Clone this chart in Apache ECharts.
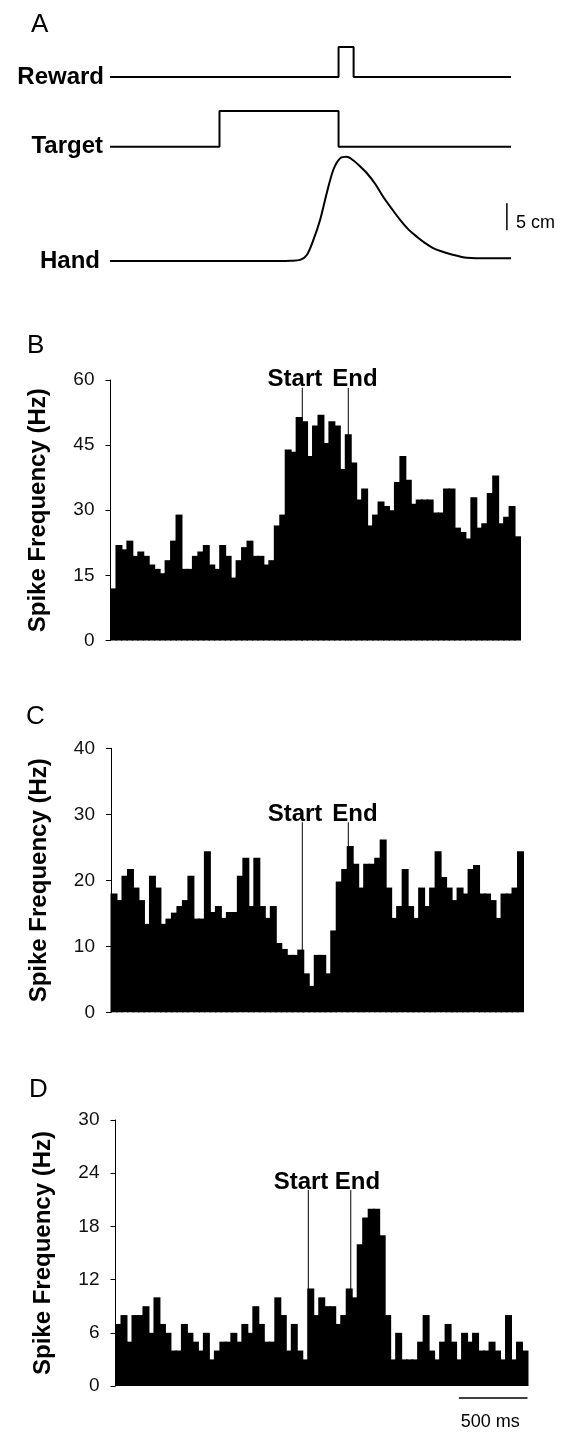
<!DOCTYPE html>
<html>
<head>
<meta charset="utf-8">
<script src="https://cdn.jsdelivr.net/npm/echarts@6/dist/echarts.min.js"></script>
<style>
  html, body { margin: 0; padding: 0; background: #fff; }
  #chart { width: 564px; height: 1434px; }
</style>
</head>
<body>
<div id="chart"></div>
<script>
// ---- data ----
// panel A: task events (ms) and hand trace
var traceEndMs = 2930;
var targetOnMs = 800;
var targetOffMs = 1670;
var rewardOnMs = 1670;
var rewardOffMs = 1780;
var handTimeMs = [0, 1240, 1320, 1389, 1438, 1486, 1535, 1584, 1632, 1681, 1730, 1779,
  1828, 1876, 1937, 1996, 2058, 2120, 2178, 2242, 2303, 2361, 2420, 2485, 2608, 2778, 2930];
var handPosCm = [0, 0, 0.05, 0.2, 1.1, 3.9, 7.6, 12.6, 16.9, 19.0, 19.3, 18.6,
  17.5, 16.3, 14.3, 11.9, 9.7, 7.6, 5.9, 4.5, 3.3, 2.4, 1.8, 1.3, 0.6, 0.5, 0.5];

// panels B-D: 40 ms bins, spike frequency (Hz)
var BIN_MS = 40;
var spikeB = [12, 22, 21, 23, 19.5, 20.5, 19.5, 17.5, 16.5, 15.5, 18.5, 23, 29, 16.5, 16.5,
  19.5, 20.5, 22, 17.5, 16.5, 22, 19.5, 14.5, 18.5, 21.5, 23, 19.5, 19.5, 17.5, 18.5,
  26.5, 29, 44, 43.5, 51.5, 50.5, 42.5, 49.5, 52, 45.5, 50.5, 49.5, 39.5, 47.5, 41,
  32.5, 35, 26.5, 29, 32, 31, 30, 36.5, 42.5, 37, 31.5, 32.5, 32.5, 32.5, 29.5,
  29.5, 35, 35, 26, 25, 23.5, 33, 26, 27, 34, 38, 27, 28.5, 31, 24];
var spikeC = [18, 17, 20.7, 21.7, 18.9, 17, 13.4, 20.7, 18.9, 13.4, 14.2, 15.1, 16.1, 17, 20.7,
  14.2, 14.2, 24.4, 15.2, 16.1, 14.3, 15.2, 15.2, 20.7, 23.4, 16.1, 23.4, 16.1, 14.3, 16.1,
  10.5, 9.6, 8.7, 8.7, 9.5, 5.9, 4.0, 8.7, 8.7, 5.9, 12.4, 19.8, 21.7, 25.2, 22.5,
  18.9, 22.5, 22.5, 23.4, 26.2, 18.9, 14.3, 16.1, 21.7, 16.1, 14.3, 18.9, 16.1, 18.9, 24.4,
  20.5, 18.9, 17, 18.9, 18, 21.7, 22.3, 18, 18, 17, 14.3, 18, 18, 18.9, 24.4];
var spikeD = [7, 8, 5, 8, 8, 9, 6, 10, 7, 6, 4, 4, 7, 6, 5, 4, 6, 3, 4, 5, 5, 6, 5, 7, 6,
  9, 7, 5, 5, 10, 8, 4, 7, 4, 3, 11, 8, 10, 9, 9, 7, 8, 11, 10, 16, 19, 20, 20, 17, 8,
  3, 6, 3, 3, 3, 5, 8, 4, 3, 5, 7, 5, 3, 6, 5, 6, 4, 4, 5, 4, 3, 8, 3, 5, 4];

// movement start / end markers for B, C, D (ms) and how high the tick reaches (Hz)
var startMs = [1405, 1393, 1404];
var endMs = [1742, 1728, 1713];
var markTop = [58.2, 28.8, 22.1];
var yMax = [60, 40, 30];
var yStep = [15, 10, 6];

var FONT = '"Liberation Sans", Arial, Helvetica, sans-serif';

// ---- chart ----
var chart = echarts.init(document.getElementById('chart'), null, {renderer: 'canvas'});

function histItem(params, api) {
  var t = api.value(0);
  var p0 = api.coord([t, api.value(1)]);
  var p1 = api.coord([t + BIN_MS, 0]);
  // a little overlap so neighbouring bins don't leave hairline seams
  return {
    type: 'rect',
    shape: {x: p0[0] - 0.5, y: p0[1], width: p1[0] - p0[0] + 1.5, height: p1[1] - p0[1]},
    style: {fill: '#000', stroke: null}
  };
}

function bins(vals) {
  return vals.map(function (v, i) { return [i * BIN_MS, v]; });
}

function traceAxis(label, max, margin) {
  return {
    type: 'value', min: 0, max: max, interval: max,
    axisLine: {show: false}, axisTick: {show: false}, splitLine: {show: false},
    axisLabel: {
      margin: margin, color: '#000', fontFamily: FONT, fontWeight: 'bold', fontSize: 24,
      formatter: function (v) { return v === 0 ? label : ''; }
    }
  };
}

function spikeAxis(k) {
  return {
    type: 'value', min: 0, max: yMax[k], interval: yStep[k],
    name: 'Spike Frequency (Hz)', nameLocation: 'middle', nameGap: 60, nameRotate: 90,
    nameTextStyle: {color: '#000', fontFamily: FONT, fontWeight: 'bold', fontSize: 24},
    axisLine: {show: true, lineStyle: {color: '#000', width: 1}},
    axisTick: {show: true, length: 5, lineStyle: {color: '#000'}},
    splitLine: {show: false},
    axisLabel: {margin: 16, color: '#111', fontFamily: FONT, fontSize: 19}
  };
}

var grids = [
  {left: 110, top: 47, width: 401, height: 30},      // reward
  {left: 110, top: 111, width: 401, height: 35.7},   // target
  {left: 110, top: 153, width: 401, height: 108},    // hand
  {left: 110.5, top: 380, width: 409.5, height: 260.5}, // B
  {left: 111, top: 748.3, width: 412, height: 264},  // C
  {left: 115.5, top: 1120, width: 412, height: 266}  // D
];

var xAxes = grids.map(function (g, i) {
  return {type: 'value', gridIndex: i, min: 0, max: i < 3 ? traceEndMs : 3000, show: false};
});

var yAxes = [traceAxis('Reward', 1, 6), traceAxis('Target', 1, 7), traceAxis('Hand', 20, 10),
  spikeAxis(0), spikeAxis(1), spikeAxis(2)];
yAxes.forEach(function (a, i) { a.gridIndex = i; });

var traceLine = {color: '#000', width: 2};
var series = [
  {type: 'line', xAxisIndex: 0, yAxisIndex: 0, step: 'end', symbol: 'none', clip: false,
    lineStyle: traceLine,
    data: [[0, 0], [rewardOnMs, 1], [rewardOffMs, 0], [traceEndMs, 0]]},
  {type: 'line', xAxisIndex: 1, yAxisIndex: 1, step: 'end', symbol: 'none', clip: false,
    lineStyle: traceLine,
    data: [[0, 0], [targetOnMs, 1], [targetOffMs, 0], [traceEndMs, 0]]},
  {type: 'line', xAxisIndex: 2, yAxisIndex: 2, symbol: 'none', smooth: 0.3, clip: false,
    lineStyle: traceLine,
    data: handTimeMs.map(function (t, i) { return [t, handPosCm[i]]; })}
];

[spikeB, spikeC, spikeD].forEach(function (vals, k) {
  series.push({
    type: 'custom', xAxisIndex: 3 + k, yAxisIndex: 3 + k,
    renderItem: histItem, encode: {x: 0, y: 1}, data: bins(vals), silent: true
  });
  [startMs[k], endMs[k]].forEach(function (t) {
    series.push({
      type: 'line', xAxisIndex: 3 + k, yAxisIndex: 3 + k, symbol: 'none', z: 3,
      lineStyle: {color: '#000', width: 1},
      data: [[t, markTop[k]], [t, 0]]
    });
  });
});

chart.setOption({
  animation: false,
  backgroundColor: '#fff',
  grid: grids,
  xAxis: xAxes,
  yAxis: yAxes,
  series: series
});

// ---- annotations placed through the axes ----
function txt(s, x, y, size, weight, align, valign) {
  return {
    type: 'text', x: x, y: y, silent: true,
    style: {text: s, fill: '#000', font: (weight || 'normal') + ' ' + size + 'px ' + FONT,
      align: align || 'left', textAlign: align || 'left',
      verticalAlign: valign || 'middle', textVerticalAlign: valign || 'middle'}
  };
}
function seg(p, q, w) {
  return {type: 'line', silent: true, shape: {x1: p[0], y1: p[1], x2: q[0], y2: q[1]},
    style: {stroke: '#000', lineWidth: w}};
}

var g = [];
g.push(txt('A', 31, 25, 26));
g.push(txt('B', 27, 346, 26));
g.push(txt('C', 26, 717, 26));
g.push(txt('D', 29, 1090, 26));

// 5 cm scale bar on the hand trace
var sb0 = chart.convertToPixel({xAxisIndex: 2, yAxisIndex: 2}, [2900, 5.7]);
var sb1 = chart.convertToPixel({xAxisIndex: 2, yAxisIndex: 2}, [2900, 10.7]);
g.push(seg(sb0, sb1, 1.5));
g.push(txt('5 cm', sb0[0] + 9, (sb0[1] + sb1[1]) / 2 + 6, 18));

// Start / End labels
for (var k = 0; k < 3; k++) {
  var ps = chart.convertToPixel({xAxisIndex: 3 + k, yAxisIndex: 3 + k}, [startMs[k], markTop[k]]);
  var pe = chart.convertToPixel({xAxisIndex: 3 + k, yAxisIndex: 3 + k}, [endMs[k], markTop[k]]);
  g.push(txt('Start', ps[0] + 20, ps[1] + 4, 24, 'bold', 'right', 'bottom'));
  g.push(txt('End', pe[0] - 16, pe[1] + 4, 24, 'bold', 'left', 'bottom'));
}

// 500 ms scale bar under panel D
var tb0 = chart.convertToPixel({xAxisIndex: 5, yAxisIndex: 5}, [2500, 0]);
var tb1 = chart.convertToPixel({xAxisIndex: 5, yAxisIndex: 5}, [3000, 0]);
g.push(seg([tb0[0], tb0[1] + 12], [tb1[0], tb1[1] + 12], 1.5));
g.push(txt('500 ms', tb0[0] + 2, tb0[1] + 36, 18));

chart.setOption({graphic: g});
</script>
</body>
</html>
